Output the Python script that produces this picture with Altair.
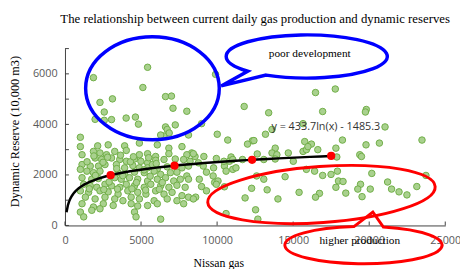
import altair as alt
import pandas as pd

# ---------------- data ----------------
title_text = "The relationship between current daily gas production and dynamic reserves"
x_title = "Nissan gas"
y_title = "Dynamic Reserve (10,000 m3)"
x_ticks = [0, 5000, 10000, 15000, 20000, 25000]
y_ticks = [0, 1000, 2000, 3000, 4000, 5000, 6000, 7000]

gas_x = [
    5430, 1870, 5120, 2300, 3120, 6610, 7000, 7100, 8010, 2580, 1980, 2580, 3060, 4020, 4630, 4830,
    6610, 6720, 7250, 9900, 11780, 8980, 10010, 10700, 12320, 16470, 13390, 16940, 13610, 15650,
    19810, 19750, 21040, 23470, 20670, 19790, 17770,
    12000, 12420, 13180, 15760, 16200, 18240, 17810, 13820, 13610, 13930, 14680, 12640, 15650, 15870,
    16620, 19380, 19490, 17870, 9130, 9950, 10920, 10810, 11670, 13070, 13820, 15010, 9090, 9770,
    10480, 11030, 15870, 16410, 16940, 17490, 17910, 14470, 12600, 13070, 20170, 23730, 8830, 9840,
    10480, 17980, 18280, 17810, 19430, 19250, 20070, 21210, 21470, 21960, 22480, 23130, 12270, 13290,
    15390, 16730, 16470, 18460, 19530, 11840, 14000, 12530, 10590, 12680, 15970, 8330, 8550, 10450,
    11030, 8770, 11240, 10590, 9300, 9740, 10060, 9950, 8980, 9300, 8590,
    1010, 2150, 2840, 3920, 4890, 6070, 6830, 7690, 1120,
    1870, 2300, 2730, 3270, 4030, 4890, 5430, 5960, 6830, 8010, 8440,
    1980, 2410, 3060, 3600, 4030, 4570, 4990, 5430, 5960, 6510, 7250, 7800, 8220,
    1120, 1660, 2200, 2630, 3380, 3920, 4460, 4890, 5430, 5750, 6070, 6720, 7690, 8120,
    1010, 1440, 1870, 2300, 3490, 3920, 4570, 5210, 5860, 6290, 6930, 7360, 8010,
    1120, 1760, 2200, 3270, 3700, 4240, 4780, 5430, 6070, 6610, 7150, 7580, 8120,
    1230, 1660, 2090, 2630, 3060, 3600, 4030, 4570, 5210, 5640, 6290, 6830, 7360, 7900,
    1010, 1550, 2300, 2840, 3490, 4130, 4780, 5320, 5960, 6510, 7040, 7690,
    1340, 1980, 2630, 3270, 3810, 4350, 4890, 5860, 6720, 7360, 8120, 8440,
    1120, 1870, 2520, 3170, 4350, 4780, 5430, 6070, 7800,
    1010, 1760, 2300, 4570, 4670, 1230, 6290,
    1010, 6510, 6850, 6290, 8120,
    1450, 2500, 3400, 4300, 5200, 6000, 2000, 2900, 3800, 4700, 5600, 6400,
    1600, 2550, 3450, 4400, 5300, 6200, 1900, 2800, 3650, 4500, 5500,
]
reserve_y = [
    6260, 5850, 5460, 4870, 5010, 5100, 5120, 4640, 4520, 4490, 4200, 4160, 4190, 4250, 4290, 4010,
    3900, 3800, 3980, 5980, 4710, 4030, 3610, 3380, 3350, 5260, 4460, 4510, 3800, 4030,
    4590, 4490, 3900, 3380, 3260, 3190, 5400,
    3220, 3360, 3610, 3320, 3220, 3380, 3060, 3060, 2870, 2800, 2870, 2830, 2930, 3000,
    3000, 2800, 2730, 2710, 2730, 2650, 2710, 2540, 2610, 2610, 2630, 2540, 2350, 2280,
    2350, 2220, 2220, 2150, 1980, 2020, 2150, 1930, 1960, 1830, 2060, 1980, 1830, 1700,
    1530, 1760, 1740, 1510, 1630, 1440, 1440, 1720, 1440, 1330, 1210, 1540, 1470, 1410,
    1310, 1270, 1120, 1280, 1140, 1090, 1050, 620, 470, 250, 3120, 2870, 2730, 2540,
    2610, 2480, 2280, 2150, 2110, 1960, 1760, 1630, 1540, 1370, 1120,
    3120, 3150, 3190, 3150, 3260, 3190, 3060, 3120, 2800,
    2930, 2870, 2800, 2930, 2970, 2800, 2840, 2730, 2840, 2800, 2840,
    2670, 2610, 2670, 2610, 2540, 2630, 2540, 2480, 2580, 2610, 2630, 2610, 2540,
    2410, 2350, 2350, 2410, 2410, 2280, 2370, 2280, 2280, 2410, 2240, 2320, 2280, 2350,
    2220, 2150, 2090, 2150, 2090, 2020, 2110, 2090, 2150, 2020, 2090, 2110, 1960,
    1890, 1830, 1860, 1890, 1830, 1890, 1830, 1760, 1830, 1890, 1760, 1830, 1830,
    1630, 1570, 1510, 1630, 1570, 1510, 1630, 1570, 1510, 1630, 1570, 1510, 1590, 1510,
    1370, 1310, 1370, 1330, 1240, 1370, 1310, 1240, 1370, 1240, 1310, 1180,
    1120, 1050, 1120, 1050, 980, 1120, 1050, 980, 1050, 980, 1120, 1050,
    860, 730, 860, 790, 860, 770, 790, 860, 860,
    530, 600, 660, 530, 340, 340, 250,
    3490, 3540, 3660, 3580, 3580,
    2520, 2500, 2250, 2520, 2200, 2450, 1980, 1720, 1970, 1700, 1950, 1700,
    1450, 1420, 1440, 1450, 1400, 1430, 2750, 2700, 2780, 2720, 2680,
]

# group averages (red dots) that the logarithmic trend is fitted to
avg_x = [3000, 7200, 12300, 17500]
avg_y = [1990, 2365, 2600, 2750]
trend_extent = [100, 17500]
equation_text = "y = 433.7ln(x) - 1485.3"

# annotation callouts (centre positions in data units)
blue_ellipse_xy = (5750, 5430)
blue_bubble_xy = (15890, 6690)
red_ellipse_xy = (16860, 1225)
red_bubble_xy = (19640, -778)
poor_label_xy = (16090, 6770)
high_label_xy = (19380, -620)
equation_xy = (17150, 3890)

# ---------------- chart ----------------
W, H = 387, 180
SERIF = "Liberation Serif"
SANS = "Open Sans"

xs = alt.Scale(domain=[0, 25000], nice=False, zero=False)
ys = alt.Scale(domain=[0, 7000], nice=False, zero=False)

x_axis = alt.Axis(
    values=x_ticks, format="d", title=x_title, grid=False, ticks=False, labelFlush=False,
    labelFont=SANS, labelFontSize=11, labelColor="#595959", labelPadding=9,
    domainColor="#404040", domainWidth=1,
    titleFont=SERIF, titleFontSize=12, titleFontWeight="normal", titleColor="#000000",
    titleX=156, titleY=38, titleBaseline="middle", titleAlign="center",
)
y_axis = alt.Axis(
    values=y_ticks, format="d", title=y_title, grid=False, ticks=False, labelFlush=False,
    labelFont=SANS, labelFontSize=11, labelColor="#595959", labelPadding=8,
    domainColor="#404040", domainWidth=1,
    titleFont=SERIF, titleFontSize=12.5, titleFontWeight="normal", titleColor="#000000",
    titleX=-51, titleY=84, titleBaseline="middle", titleAlign="center", titleAngle=270,
)

df = pd.DataFrame({"x": gas_x, "y": reserve_y})
avg_df = pd.DataFrame({"x": avg_x, "y": avg_y})

points = alt.Chart(df).mark_circle(
    size=44, fill="#a9d18e", stroke="#70ad47", strokeWidth=1, opacity=1
).encode(x=alt.X("x:Q", scale=xs, axis=x_axis), y=alt.Y("y:Q", scale=ys, axis=y_axis))

trend = alt.Chart(avg_df).transform_regression(
    "x", "y", method="log", extent=trend_extent
).mark_line(color="#000000", strokeWidth=2.5).encode(x="x:Q", y="y:Q")

avg_pts = alt.Chart(avg_df).mark_circle(size=70, color="#ff0000", opacity=1).encode(x="x:Q", y="y:Q")

xtick = alt.Chart(pd.DataFrame({"x": x_ticks})).mark_rule(color="#404040", strokeWidth=1).encode(
    x="x:Q", y=alt.value(H), y2=alt.value(H - 4))
ytick = alt.Chart(pd.DataFrame({"y": y_ticks})).mark_rule(color="#404040", strokeWidth=1).encode(
    y="y:Q", x=alt.value(0), x2=alt.value(4))


def shape_layer(xy, path, size, color, width, angle=0):
    return alt.Chart(pd.DataFrame({"x": [xy[0]], "y": [xy[1]]})).mark_point(
        shape=path, size=size, filled=False, stroke=color, strokeWidth=width,
        opacity=1, angle=angle,
    ).encode(x="x:Q", y="y:Q")


blue_ellipse = shape_layer(blue_ellipse_xy, "M-1,0A1,0.772,0,1,1,1,0A1,0.772,0,1,1,-1,0Z",
                           136 ** 2, "#0000ff", 3.5)
blue_bubble = shape_layer(blue_bubble_xy,
                          "M-0.732,0.183A1,0.268,0,1,1,-0.504,0.232L-1.061,0.366Z",
                          164 ** 2, "#0000ff", 3.5)
red_ellipse = shape_layer(red_ellipse_xy, "M-1,0A1,0.246,0,1,1,1,0A1,0.246,0,1,1,-1,0Z",
                          232 ** 2, "#ff0000", 3, angle=356)
red_bubble = shape_layer(red_bubble_xy,
                         "M0.25,-0.23A1,0.2375,0,1,1,-0.125,-0.236L0.116,-0.421Z",
                         160 ** 2, "#ff0000", 3)


def text_layer(xy, text, font, size, color="#000000"):
    return alt.Chart(pd.DataFrame({"x": [xy[0]], "y": [xy[1]], "t": [text]})).mark_text(
        font=font, fontSize=size, color=color, align="center", baseline="middle"
    ).encode(x="x:Q", y="y:Q", text="t:N")


poor_txt = text_layer(poor_label_xy, "poor development", SERIF, 11.5)
high_txt = text_layer(high_label_xy, "higher production", SERIF, 11.5)
eq_txt = text_layer(equation_xy, equation_text, SANS, 11, "#333333")

chart = alt.layer(
    points, trend, avg_pts, xtick, ytick,
    blue_ellipse, blue_bubble, red_ellipse, red_bubble,
    poor_txt, high_txt, eq_txt,
).properties(
    width=W, height=H,
    title=alt.TitleParams(title_text, font=SERIF, fontSize=13, fontWeight="normal",
                          color="#000000", anchor="middle", offset=2),
    autosize=alt.AutoSizeParams(type="none"),
    padding={"left": 58, "top": 39, "right": 15, "bottom": 42},
).configure_view(stroke=None)

chart.save("out.html", embed_options={"renderer": "svg", "actions": False})
